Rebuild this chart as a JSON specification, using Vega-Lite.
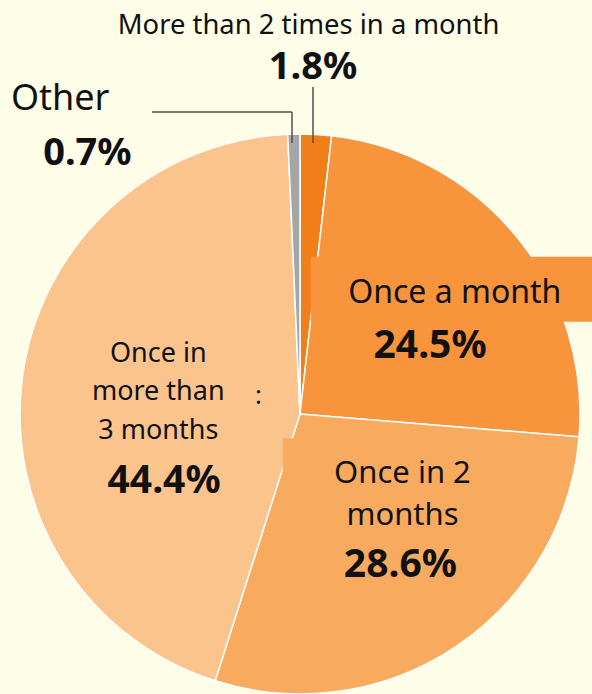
{
  "$schema": "https://vega.github.io/schema/vega-lite/v6.json",
  "width": 584,
  "height": 560,
  "autosize": {"type": "none"},
  "padding": {"left": 8, "top": 134, "right": 0, "bottom": 0},
  "background": "#FEFEE8",
  "config": {"view": {"stroke": null}},
  "data": {
    "values": [
      {"k": 1, "category": "More than 2 times in a month", "label": "More than 2 times in a month", "share": 0.018},
      {"k": 2, "category": "Once a month", "label": "Once a month", "share": 0.245},
      {"k": 3, "category": "Once in 2 months", "label": "Once in 2\nmonths", "share": 0.286},
      {"k": 4, "category": "Once in more than 3 months", "label": "Once in\nmore than\n3 months", "share": 0.444},
      {"k": 5, "category": "Other", "label": "Other", "share": 0.007}
    ]
  },
  "layer": [
    {
      "mark": {"type": "arc", "outerRadius": 280, "stroke": "#ffffff", "strokeWidth": 1.5},
      "encoding": {
        "theta": {"field": "share", "type": "quantitative", "stack": true},
        "order": {"field": "k", "type": "quantitative"},
        "color": {
          "field": "category", "type": "nominal", "legend": null,
          "scale": {
            "domain": ["More than 2 times in a month", "Once a month", "Once in 2 months", "Once in more than 3 months", "Other"],
            "range": ["#F07F1A", "#F7943C", "#F8AB5F", "#FAC48C", "#A6A6A6"]
          }
        }
      }
    },
    {
      "transform": [{"filter": "datum.k===2"}],
      "mark": {"type": "rect", "strokeWidth": 0},
      "encoding": {
        "x": {"datum": 0.0382, "type": "quantitative", "scale": {"domain": [-1.042857, 1.042857], "nice": false, "zero": false}, "axis": null},
        "x2": {"datum": 1.1},
        "y": {"datum": 0.5618, "type": "quantitative", "scale": {"domain": [-1, 1], "nice": false, "zero": false}, "axis": null},
        "y2": {"datum": 0.3296},
        "color": {"field": "category", "type": "nominal", "legend": null}
      }
    },
    {
      "transform": [{"filter": "datum.k===3"}],
      "mark": {"type": "rect", "strokeWidth": 0},
      "encoding": {
        "x": {"datum": -0.0618, "type": "quantitative", "scale": {"domain": [-1.042857, 1.042857], "nice": false, "zero": false}, "axis": null},
        "x2": {"datum": 0.643},
        "y": {"datum": -0.0868, "type": "quantitative", "scale": {"domain": [-1, 1], "nice": false, "zero": false}, "axis": null},
        "y2": {"datum": -0.611},
        "color": {"field": "category", "type": "nominal", "legend": null}
      }
    },
    {
      "transform": [{"filter": "datum.k===5"}],
      "mark": {"type": "rule", "stroke": "#505050", "strokeWidth": 1.5},
      "encoding": {
        "x": {"datum": -0.5286, "type": "quantitative", "scale": {"domain": [-1.042857, 1.042857], "nice": false, "zero": false}, "axis": null},
        "x2": {"datum": -0.02857},
        "y": {"datum": 1.0786, "type": "quantitative", "scale": {"domain": [-1, 1], "nice": false, "zero": false}, "axis": null}
      }
    },
    {
      "transform": [{"filter": "datum.k===5"}],
      "mark": {"type": "rule", "stroke": "#505050", "strokeWidth": 1.5},
      "encoding": {
        "x": {"datum": -0.02857, "type": "quantitative", "scale": {"domain": [-1.042857, 1.042857], "nice": false, "zero": false}, "axis": null},
        "y": {"datum": 1.0786, "type": "quantitative", "scale": {"domain": [-1, 1], "nice": false, "zero": false}, "axis": null},
        "y2": {"datum": 0.9679}
      }
    },
    {
      "transform": [{"filter": "datum.k===1"}],
      "mark": {"type": "rule", "stroke": "#505050", "strokeWidth": 1.5},
      "encoding": {
        "x": {"datum": 0.04643, "type": "quantitative", "scale": {"domain": [-1.042857, 1.042857], "nice": false, "zero": false}, "axis": null},
        "y": {"datum": 1.1679, "type": "quantitative", "scale": {"domain": [-1, 1], "nice": false, "zero": false}, "axis": null},
        "y2": {"datum": 0.9679}
      }
    },
    {
      "mark": {"type": "text", "font": "Noto Sans", "fontSize": 27.4, "align": "center", "baseline": "alphabetic", "dx": -13, "dy": 0, "color": "#111111"},
      "encoding": {
        "theta": {"field": "share", "type": "quantitative", "stack": true},
        "order": {"field": "k", "type": "quantitative"},
        "radius": {"value": 381},
        "text": {"condition": {"test": "datum.k===1", "field": "label", "type": "nominal"}, "value": ""}
      }
    },
    {
      "mark": {"type": "text", "font": "Noto Sans", "fontSize": 38, "fontWeight": "bold", "align": "center", "baseline": "alphabetic", "dx": -6, "dy": 0, "color": "#111111"},
      "encoding": {
        "theta": {"field": "share", "type": "quantitative", "stack": true},
        "order": {"field": "k", "type": "quantitative"},
        "radius": {"value": 336},
        "text": {"condition": {"test": "datum.k===1", "field": "share", "type": "quantitative", "format": ".1%"}, "value": ""}
      }
    },
    {
      "mark": {"type": "text", "font": "Noto Sans", "fontSize": 36, "align": "center", "baseline": "alphabetic", "dx": -233, "dy": 5, "color": "#111111"},
      "encoding": {
        "theta": {"field": "share", "type": "quantitative", "stack": true},
        "order": {"field": "k", "type": "quantitative"},
        "radius": {"value": 309},
        "text": {"condition": {"test": "datum.k===5", "field": "label", "type": "nominal"}, "value": ""}
      }
    },
    {
      "mark": {"type": "text", "font": "Noto Sans", "fontSize": 38, "fontWeight": "bold", "align": "center", "baseline": "alphabetic", "dx": -207, "dy": 5, "color": "#111111"},
      "encoding": {
        "theta": {"field": "share", "type": "quantitative", "stack": true},
        "order": {"field": "k", "type": "quantitative"},
        "radius": {"value": 254},
        "text": {"condition": {"test": "datum.k===5", "field": "share", "type": "quantitative", "format": ".1%"}, "value": ""}
      }
    },
    {
      "mark": {"type": "text", "font": "Noto Sans", "fontSize": 32, "align": "center", "baseline": "alphabetic", "dx": 8, "dy": 10, "color": "#111111"},
      "encoding": {
        "theta": {"field": "share", "type": "quantitative", "stack": true},
        "order": {"field": "k", "type": "quantitative"},
        "radius": {"value": 190},
        "text": {"condition": {"test": "datum.k===2", "field": "label", "type": "nominal"}, "value": ""}
      }
    },
    {
      "mark": {"type": "text", "font": "Noto Sans", "fontSize": 39, "fontWeight": "bold", "align": "center", "baseline": "alphabetic", "dx": 25, "dy": 30, "color": "#111111"},
      "encoding": {
        "theta": {"field": "share", "type": "quantitative", "stack": true},
        "order": {"field": "k", "type": "quantitative"},
        "radius": {"value": 136},
        "text": {"condition": {"test": "datum.k===2", "field": "share", "type": "quantitative", "format": ".1%"}, "value": ""}
      }
    },
    {
      "mark": {"type": "text", "font": "Noto Sans", "fontSize": 31, "align": "center", "baseline": "alphabetic", "lineBreak": "\n", "lineHeight": 42, "dx": 39, "dy": -26, "color": "#111111"},
      "encoding": {
        "theta": {"field": "share", "type": "quantitative", "stack": true},
        "order": {"field": "k", "type": "quantitative"},
        "radius": {"value": 114},
        "text": {"condition": {"test": "datum.k===3", "field": "label", "type": "nominal"}, "value": ""}
      }
    },
    {
      "mark": {"type": "text", "font": "Noto Sans", "fontSize": 39, "fontWeight": "bold", "align": "center", "baseline": "alphabetic", "dx": -6, "dy": 4, "color": "#111111"},
      "encoding": {
        "theta": {"field": "share", "type": "quantitative", "stack": true},
        "order": {"field": "k", "type": "quantitative"},
        "radius": {"value": 191},
        "text": {"condition": {"test": "datum.k===3", "field": "share", "type": "quantitative", "format": ".1%"}, "value": ""}
      }
    },
    {
      "mark": {"type": "text", "font": "Noto Sans", "fontSize": 27, "align": "center", "baseline": "alphabetic", "lineBreak": "\n", "lineHeight": 38.5, "dx": 4, "dy": -33, "color": "#111111"},
      "encoding": {
        "theta": {"field": "share", "type": "quantitative", "stack": true},
        "order": {"field": "k", "type": "quantitative"},
        "radius": {"value": 147},
        "text": {"condition": {"test": "datum.k===4", "field": "label", "type": "nominal"}, "value": ""}
      }
    },
    {
      "mark": {"type": "text", "font": "Noto Sans", "fontSize": 39, "fontWeight": "bold", "align": "center", "baseline": "alphabetic", "dx": -13, "dy": 95, "color": "#111111"},
      "encoding": {
        "theta": {"field": "share", "type": "quantitative", "stack": true},
        "order": {"field": "k", "type": "quantitative"},
        "radius": {"value": 124},
        "text": {"condition": {"test": "datum.k===4", "field": "share", "type": "quantitative", "format": ".1%"}, "value": ""}
      }
    },
    {
      "mark": {"type": "text", "font": "Noto Sans", "fontSize": 26, "align": "center", "baseline": "alphabetic", "dx": 1, "dy": -4, "color": "#111111"},
      "encoding": {
        "theta": {"field": "share", "type": "quantitative", "stack": true},
        "order": {"field": "k", "type": "quantitative"},
        "radius": {"value": 43},
        "text": {"condition": {"test": "datum.k===4", "value": ":"}, "value": ""}
      }
    }
  ]
}
